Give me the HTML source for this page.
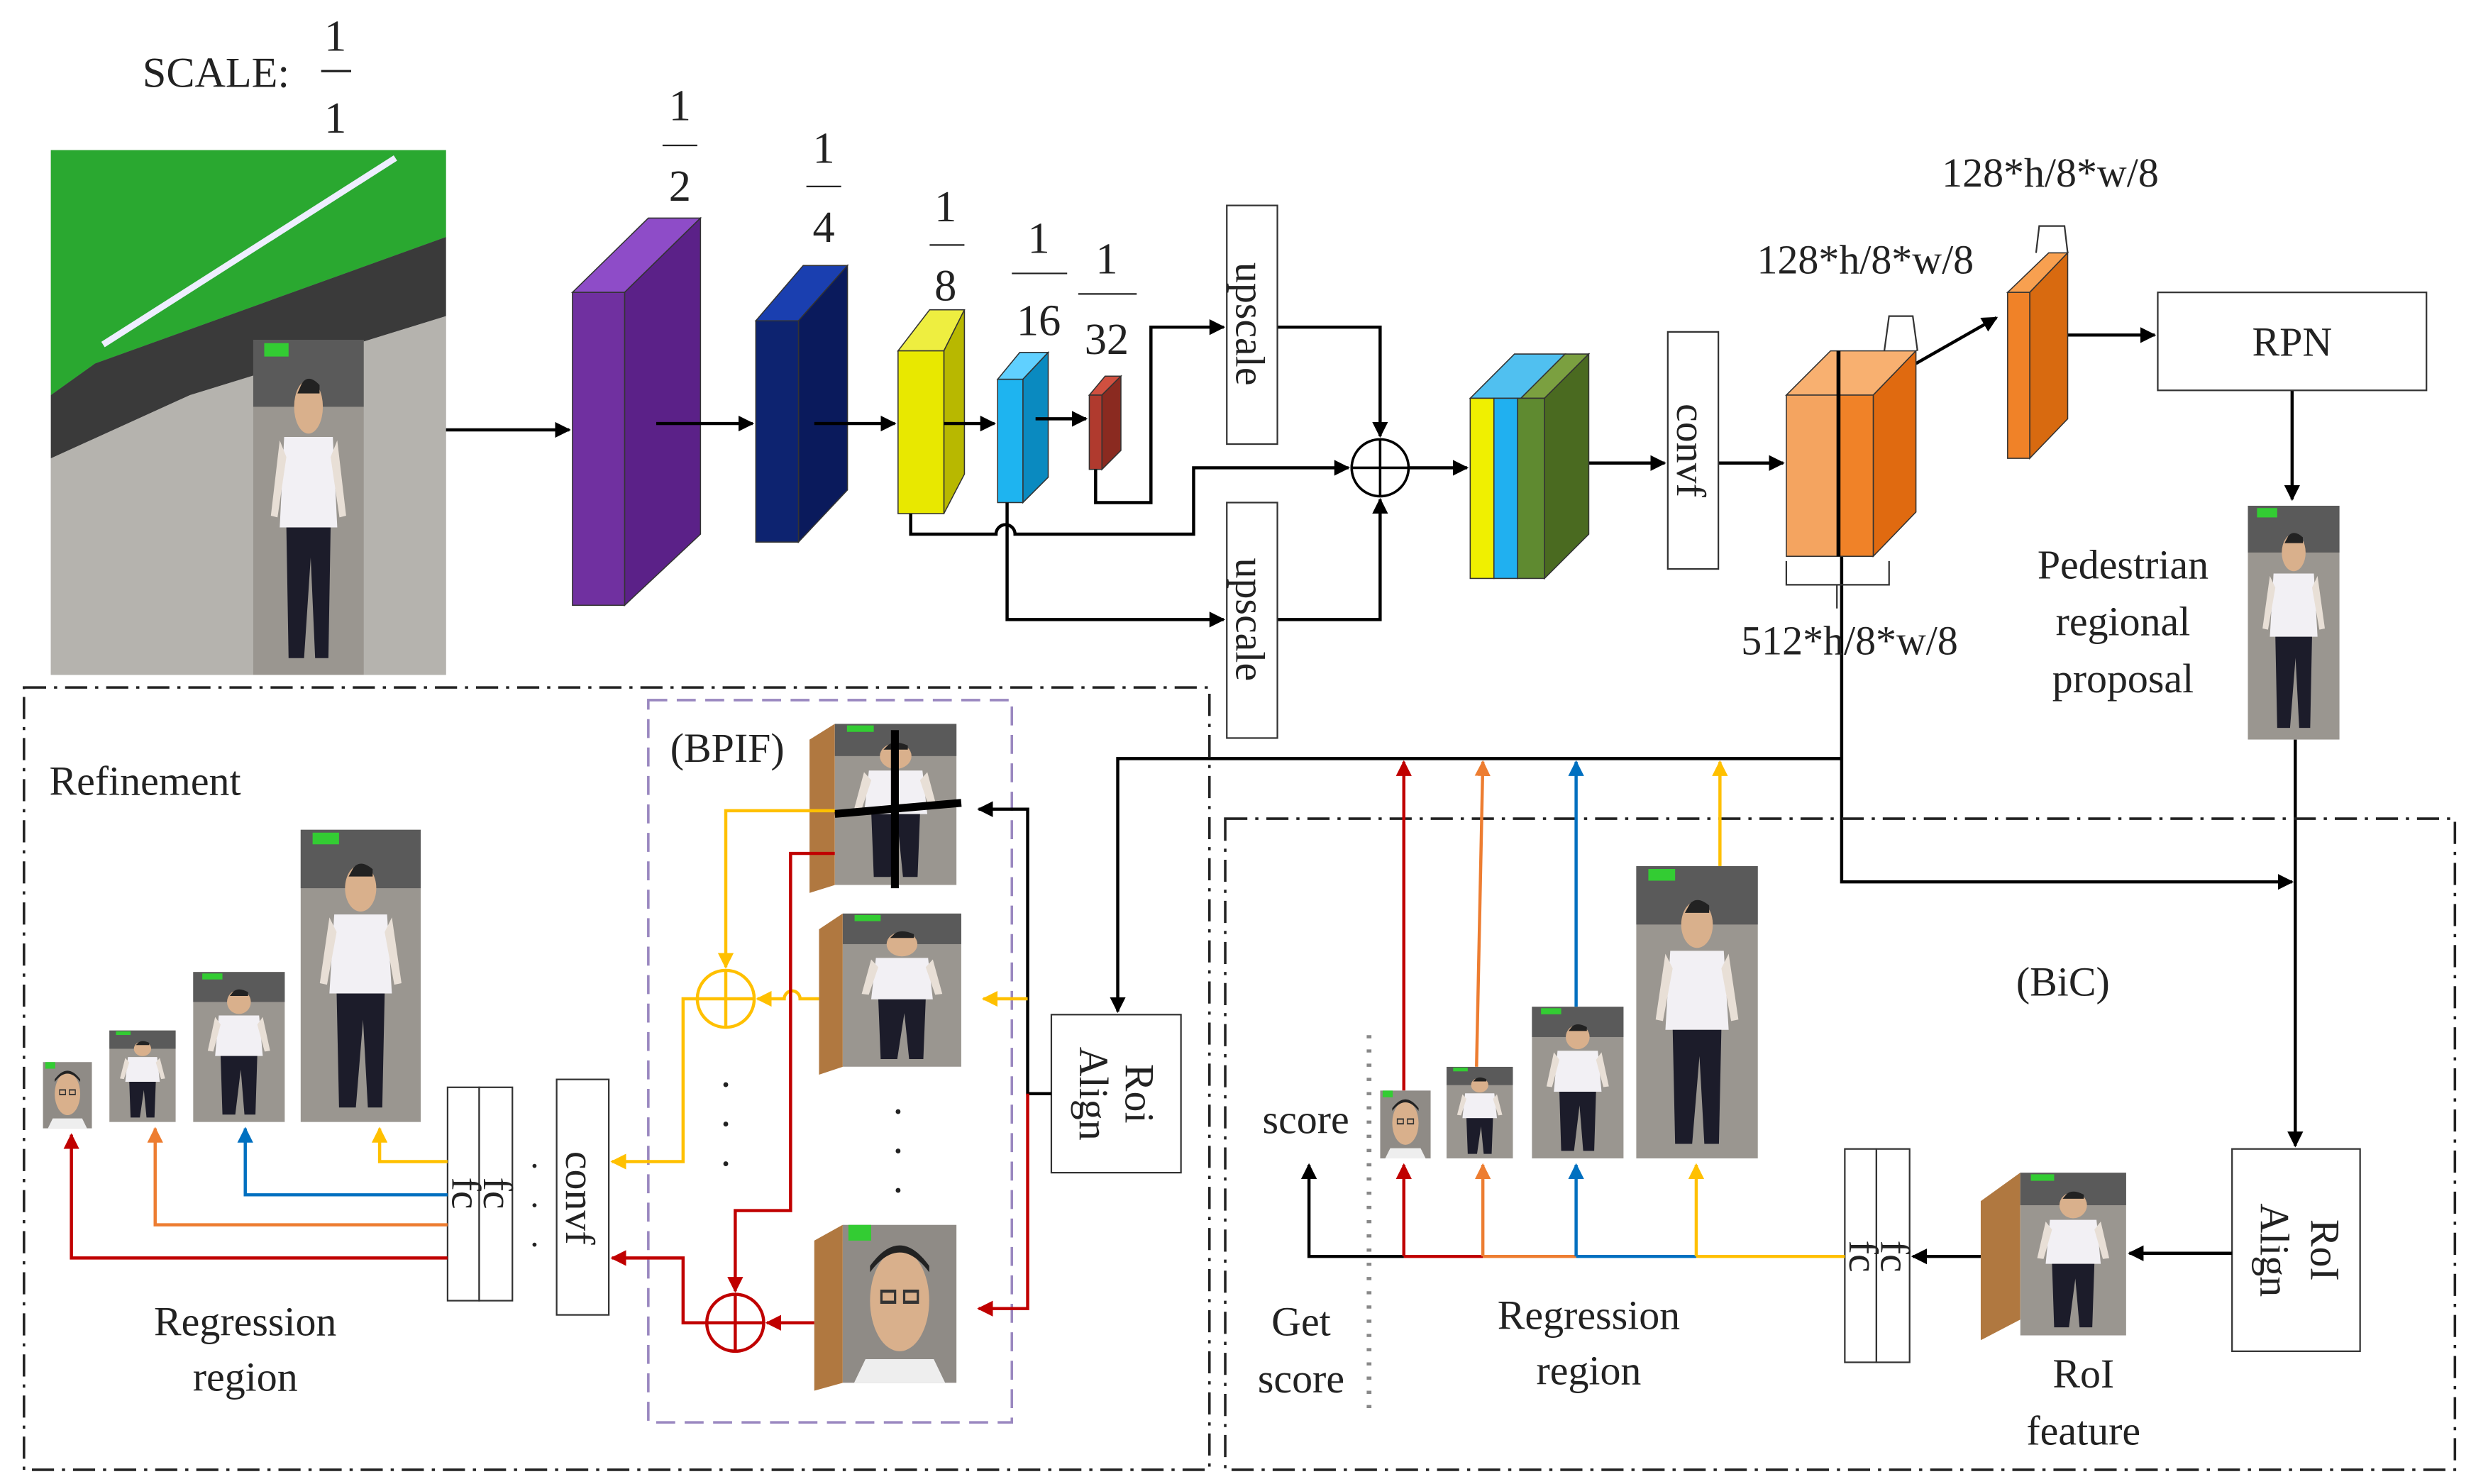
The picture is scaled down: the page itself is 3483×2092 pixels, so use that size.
<!DOCTYPE html>
<html><head><meta charset="utf-8"><style>
html,body{margin:0;padding:0;background:#fff;width:3483px;height:2092px;overflow:hidden}
svg{display:block}
text{font-family:"Liberation Serif",serif;fill:#222}
</style></head><body>
<svg width="3483" height="2092" viewBox="0 0 1563 939" xmlns="http://www.w3.org/2000/svg">
<defs>
<marker id="ak" markerWidth="10" markerHeight="10" refX="9" refY="5" orient="auto" markerUnits="userSpaceOnUse"><path d="M0,0 L10,5 L0,10 z" fill="#000"/></marker>
<marker id="ar" markerWidth="10" markerHeight="10" refX="9" refY="5" orient="auto" markerUnits="userSpaceOnUse"><path d="M0,0 L10,5 L0,10 z" fill="#c00000"/></marker>
<marker id="ao" markerWidth="10" markerHeight="10" refX="9" refY="5" orient="auto" markerUnits="userSpaceOnUse"><path d="M0,0 L10,5 L0,10 z" fill="#ed7d31"/></marker>
<marker id="ab" markerWidth="10" markerHeight="10" refX="9" refY="5" orient="auto" markerUnits="userSpaceOnUse"><path d="M0,0 L10,5 L0,10 z" fill="#0070c0"/></marker>
<marker id="ay" markerWidth="10" markerHeight="10" refX="9" refY="5" orient="auto" markerUnits="userSpaceOnUse"><path d="M0,0 L10,5 L0,10 z" fill="#ffc000"/></marker>
<symbol id="person" viewBox="0 0 100 200" preserveAspectRatio="none">
<rect width="100" height="200" fill="#9a9690"/>
<rect width="100" height="40" fill="#5a5a5a"/>
<rect x="10" y="2" width="22" height="8" fill="#3c3"/>
<ellipse cx="50" cy="40" rx="13" ry="16" fill="#d9b08c"/>
<path d="M44,26 Q50,20 60,27 L60,32 L40,32 z" fill="#222"/>
<path d="M28,58 L72,58 L76,112 L24,112 z" fill="#f2f0f4"/>
<path d="M30,112 L70,112 L68,190 L56,190 L52,130 L46,190 L32,190 z" fill="#1c1c2a"/>
<path d="M24,60 L16,105 L22,106 L30,70 z M76,60 L84,105 L78,106 L70,70 z" fill="#e8dfd6"/>
</symbol>
<symbol id="face" viewBox="0 0 100 100" preserveAspectRatio="none">
<rect width="100" height="100" fill="#8f8b86"/>
<rect x="5" width="20" height="10" fill="#3c3"/>
<ellipse cx="50" cy="48" rx="26" ry="32" fill="#d9b08c"/>
<path d="M24,30 Q50,5 76,30 L76,26 Q50,0 24,26z" fill="#222"/>
<rect x="34" y="42" width="12" height="7" fill="none" stroke="#333" stroke-width="2"/>
<rect x="54" y="42" width="12" height="7" fill="none" stroke="#333" stroke-width="2"/>
<path d="M20,85 L80,85 L90,100 L10,100z" fill="#eee"/>
</symbol>
</defs>

<!-- Scale -->
<text x="90" y="55" font-size="27">SCALE:</text>
<text x="212" y="32" font-size="28" text-anchor="middle">1</text><line x1="203" y1="45" x2="222" y2="45" stroke="#222" stroke-width="1.5"/><text x="212" y="84" font-size="28" text-anchor="middle">1</text>

<!-- main photo -->
<rect x="32" y="95" width="250" height="332" fill="#9c9ea0"/>
<polygon points="32,95 282,95 282,150 60,230 32,250" fill="#2aa830"/>
<polygon points="32,250 60,230 282,150 282,200 120,250 32,290" fill="#3a3a3a"/>
<polygon points="32,290 120,250 282,200 282,427 32,427" fill="#b5b3ae"/>
<line x1="65" y1="218" x2="250" y2="100" stroke="#eef" stroke-width="4"/>
<use href="#person" x="160" y="215" width="70" height="212"/>

<!-- scale fractions -->
<g font-size="28" text-anchor="middle">
<text x="430" y="76">1</text><line x1="419" y1="92" x2="441" y2="92" stroke="#222"/><text x="430" y="127">2</text>
<text x="521" y="103">1</text><line x1="510" y1="118" x2="532" y2="118" stroke="#222"/><text x="521" y="153">4</text>
<text x="598" y="140">1</text><line x1="588" y1="155" x2="610" y2="155" stroke="#222"/><text x="598" y="190">8</text>
<text x="657" y="160">1</text><line x1="640" y1="173" x2="675" y2="173" stroke="#222"/><text x="657" y="212">16</text>
<text x="700" y="173">1</text><line x1="682" y1="186" x2="719" y2="186" stroke="#222"/><text x="700" y="224">32</text>
</g>

<!-- backbone blocks -->
<g stroke="#333" stroke-width="0.7">
<polygon points="362,185 410,138 443,138 395,185" fill="#8e4cc8"/>
<polygon points="395,185 443,138 443,338 395,383" fill="#5b2188"/>
<rect x="362" y="185" width="33" height="198" fill="#7030a0"/>
<polygon points="478,203 508,168 536,168 505,203" fill="#1a3fb0"/>
<polygon points="505,203 536,168 536,310 505,343" fill="#0a1a5c"/>
<rect x="478" y="203" width="27" height="140" fill="#0d2370"/>
<polygon points="568,222 588,196 610,196 597,222" fill="#eeee40"/>
<polygon points="597,222 610,196 610,300 597,325" fill="#b8b800"/>
<rect x="568" y="222" width="29" height="103" fill="#e8e800"/>
<polygon points="631,240 645,223 663,223 647,240" fill="#60d0ff"/>
<polygon points="647,240 663,223 663,302 647,318" fill="#0a8ac0"/>
<rect x="631" y="240" width="16" height="78" fill="#1eb4f0"/>
<polygon points="689,250 699,238 709,238 697,250" fill="#d05040"/>
<polygon points="697,250 709,238 709,285 697,297" fill="#8a2a20"/>
<rect x="689" y="250" width="8" height="47" fill="#b03a2e"/>
</g>

<g stroke="#000" stroke-width="2" fill="none">
<line x1="282" y1="272" x2="360" y2="272" marker-end="url(#ak)"/>
<line x1="415" y1="268" x2="476" y2="268" marker-end="url(#ak)"/>
<line x1="515" y1="268" x2="566" y2="268" marker-end="url(#ak)"/>
<line x1="597" y1="268" x2="629" y2="268" marker-end="url(#ak)"/>
<line x1="655" y1="265" x2="687" y2="265" marker-end="url(#ak)"/>
<polyline points="693,297 693,318 728,318 728,207 774,207" marker-end="url(#ak)"/>
<polyline points="808,207 873,207 873,276" marker-end="url(#ak)"/>
<path d="M576,325 L576,338 L630,338 A6,6 0 0 1 642,338 L755,338 L755,296 L853,296" marker-end="url(#ak)"/>
<polyline points="637,318 637,392 774,392" marker-end="url(#ak)"/>
<polyline points="808,392 873,392 873,316" marker-end="url(#ak)"/>
<line x1="891" y1="296" x2="928" y2="296" marker-end="url(#ak)"/>
<line x1="1005" y1="293" x2="1053" y2="293" marker-end="url(#ak)"/>
<line x1="1087" y1="293" x2="1128" y2="293" marker-end="url(#ak)"/>
<line x1="1212" y1="230" x2="1263" y2="201" marker-end="url(#ak)"/>
<line x1="1308" y1="212" x2="1363" y2="212" marker-end="url(#ak)"/>
<line x1="1450" y1="247" x2="1450" y2="316" marker-end="url(#ak)"/>
<polyline points="1452,468 1452,725" marker-end="url(#ak)"/>
<polyline points="1165,352 1165,558 1450,558" marker-end="url(#ak)"/>
<polyline points="1165,480 707,480 707,640" marker-end="url(#ak)"/>
<circle cx="873" cy="296" r="18" stroke-width="1.6"/>
<line x1="855" y1="296" x2="891" y2="296" stroke-width="1.6"/><line x1="873" y1="278" x2="873" y2="314" stroke-width="1.6"/>
</g>

<!-- upscale, convf -->
<g stroke="#333" stroke-width="1" fill="#fff">
<rect x="776" y="130" width="32" height="151"/>
<rect x="776" y="318" width="32" height="149"/>
<rect x="1055" y="210" width="32" height="150"/>
<rect x="1365" y="185" width="170" height="62"/>
</g>
<g font-size="26">
<text transform="translate(782,205) rotate(90)" text-anchor="middle">upscale</text>
<text transform="translate(782,392) rotate(90)" text-anchor="middle">upscale</text>
<text transform="translate(1061,285) rotate(90)" text-anchor="middle">convf</text>
<text x="1450" y="225" text-anchor="middle">RPN</text>
</g>

<!-- concat -->
<g stroke="#333" stroke-width="0.7">
<polygon points="962,252 990,224 1005,224 977,252" fill="#7ba040"/>
<polygon points="977,252 1005,224 1005,338 977,366" fill="#4a6a20"/>
<polygon points="930,252 958,224 990,224 962,252" fill="#50c0f0"/>
<rect x="930" y="252" width="15" height="114" fill="#f0f000"/>
<rect x="945" y="252" width="15" height="114" fill="#20b0f0"/>
<rect x="960" y="252" width="17" height="114" fill="#5f8a30"/>
<polygon points="1130,250 1158,222 1212,222 1185,250" fill="#f8b070"/>
<polygon points="1185,250 1212,222 1212,324 1185,352" fill="#e06a10"/>
<rect x="1130" y="250" width="33" height="102" fill="#f4a460"/>
<rect x="1163" y="250" width="22" height="102" fill="#f08228"/>
<polygon points="1270,185 1296,160 1308,160 1284,185" fill="#f8a050"/>
<polygon points="1284,185 1308,160 1308,265 1284,290" fill="#d86a10"/>
<rect x="1270" y="185" width="14" height="105" fill="#f08228"/>
</g>
<line x1="1163" y1="222" x2="1163" y2="352" stroke="#000" stroke-width="2.5"/>
<g stroke="#333" fill="none" stroke-width="1">
<path d="M1192,222 L1195,200 L1210,200 L1213,222"/>
<path d="M1288,160 L1290,143 L1306,143 L1308,160"/>
<path d="M1130,355 L1130,370 L1195,370 L1195,355 M1162,370 L1162,385"/>
</g>
<g font-size="26" text-anchor="middle">
<text x="1180" y="173">128*h/8*w/8</text>
<text x="1297" y="118">128*h/8*w/8</text>
<text x="1170" y="414">512*h/8*w/8</text>
<text x="1343" y="366">Pedestrian</text>
<text x="1343" y="402">regional</text>
<text x="1343" y="438">proposal</text>
</g>
<use href="#person" x="1422" y="320" width="58" height="148"/>

<!-- dash-dot regions -->
<g fill="none" stroke="#222" stroke-width="1.6" stroke-dasharray="14,5,2,5">
<rect x="15" y="435" width="750" height="495"/>
<rect x="775" y="518" width="778" height="412"/>
</g>
<rect x="410" y="443" width="230" height="457" fill="none" stroke="#9a88c0" stroke-width="1.6" stroke-dasharray="12,6"/>

<!-- RoI Align boxes -->
<g stroke="#333" fill="#fff"><rect x="665" y="642" width="82" height="100"/><rect x="1412" y="727" width="81" height="128"/>
<rect x="1167" y="727" width="20" height="135"/><rect x="1187" y="727" width="21" height="135"/>
<rect x="283" y="688" width="20" height="135"/><rect x="303" y="688" width="21" height="135"/>
<rect x="352" y="683" width="33" height="149"/></g>
<g font-size="26">
<text transform="translate(712,692) rotate(90)" text-anchor="middle">Roi</text>
<text transform="translate(683,692) rotate(90)" text-anchor="middle">Align</text>
<text transform="translate(1462,791) rotate(90)" text-anchor="middle">RoI</text>
<text transform="translate(1430,791) rotate(90)" text-anchor="middle">Align</text>
<text transform="translate(1190,795) rotate(90)" text-anchor="middle">fc</text>
<text transform="translate(1170,795) rotate(90)" text-anchor="middle">fc</text>
<text transform="translate(306,755) rotate(90)" text-anchor="middle">fc</text>
<text transform="translate(286,755) rotate(90)" text-anchor="middle">fc</text>
<text transform="translate(358,758) rotate(90)" text-anchor="middle">convf</text>
<text x="31" y="503">Refinement</text>
<text x="460" y="482" text-anchor="middle">(BPIF)</text>
<text x="1305" y="630" text-anchor="middle">(BiC)</text>
<text x="826" y="717" text-anchor="middle">score</text>
<text x="823" y="845" text-anchor="middle">Get</text>
<text x="823" y="881" text-anchor="middle">score</text>
<text x="1005" y="841" text-anchor="middle">Regression</text>
<text x="1005" y="876" text-anchor="middle">region</text>
<text x="155" y="845" text-anchor="middle">Regression</text>
<text x="155" y="880" text-anchor="middle">region</text>
<text x="1318" y="878" text-anchor="middle">RoI</text>
<text x="1318" y="914" text-anchor="middle">feature</text>
</g>

<!-- RoI feature -->
<polygon points="1253,760 1278,742 1278,835 1253,848" fill="#b07840"/>
<use href="#person" x="1278" y="742" width="67" height="103"/>
<line x1="1412" y1="793" x2="1347" y2="793" stroke="#000" stroke-width="2" marker-end="url(#ak)"/>
<line x1="1253" y1="795" x2="1210" y2="795" stroke="#000" stroke-width="2" marker-end="url(#ak)"/>

<!-- BiC bottom -->
<line x1="866" y1="655" x2="866" y2="898" stroke="#888" stroke-width="3" stroke-dasharray="2,7"/>
<use href="#face" x="873" y="690" width="32" height="43"/>
<use href="#person" x="915" y="675" width="42" height="58"/>
<use href="#person" x="969" y="637" width="58" height="96"/>
<use href="#person" x="1035" y="548" width="77" height="185"/>
<g stroke-width="2" fill="none">
<line x1="1167" y1="795" x2="1073" y2="795" stroke="#ffc000"/>
<line x1="1073" y1="795" x2="997" y2="795" stroke="#0070c0"/>
<line x1="997" y1="795" x2="938" y2="795" stroke="#ed7d31"/>
<line x1="938" y1="795" x2="888" y2="795" stroke="#c00000"/>
<polyline points="888,795 828,795 828,737" stroke="#000" marker-end="url(#ak)"/>
<line x1="1073" y1="795" x2="1073" y2="737" stroke="#ffc000" marker-end="url(#ay)"/>
<line x1="997" y1="795" x2="997" y2="737" stroke="#0070c0" marker-end="url(#ab)"/>
<line x1="938" y1="795" x2="938" y2="737" stroke="#ed7d31" marker-end="url(#ao)"/>
<line x1="888" y1="795" x2="888" y2="737" stroke="#c00000" marker-end="url(#ar)"/>
<line x1="888" y1="690" x2="888" y2="482" stroke="#c00000" marker-end="url(#ar)"/>
<line x1="934" y1="675" x2="938" y2="482" stroke="#ed7d31" marker-end="url(#ao)"/>
<line x1="997" y1="637" x2="997" y2="482" stroke="#0070c0" marker-end="url(#ab)"/>
<line x1="1088" y1="548" x2="1088" y2="482" stroke="#ffc000" marker-end="url(#ay)"/>
</g>

<!-- Left refinement -->
<use href="#face" x="27" y="672" width="31" height="42"/>
<use href="#person" x="69" y="652" width="42" height="58"/>
<use href="#person" x="122" y="615" width="58" height="95"/>
<use href="#person" x="190" y="525" width="76" height="185"/>
<g stroke-width="2" fill="none">
<polyline points="283,796 45,796 45,718" stroke="#c00000" marker-end="url(#ar)"/>
<polyline points="283,775 98,775 98,714" stroke="#ed7d31" marker-end="url(#ao)"/>
<polyline points="283,756 155,756 155,714" stroke="#0070c0" marker-end="url(#ab)"/>
<polyline points="283,735 240,735 240,714" stroke="#ffc000" marker-end="url(#ay)"/>
</g>
<text x="338" y="745" font-size="22" text-anchor="middle">·</text><text x="338" y="770" font-size="22" text-anchor="middle">·</text><text x="338" y="795" font-size="22" text-anchor="middle">·</text>

<!-- BPIF -->
<polygon points="512,468 528,458 528,560 512,565" fill="#b07840"/>
<use href="#person" x="528" y="458" width="77" height="102"/>
<line x1="566" y1="462" x2="566" y2="562" stroke="#000" stroke-width="5"/>
<line x1="528" y1="515" x2="608" y2="508" stroke="#000" stroke-width="5"/>
<polygon points="518,588 533,578 533,675 518,680" fill="#b07840"/>
<use href="#person" x="533" y="578" width="75" height="97"/>
<polygon points="515,785 533,775 533,875 515,880" fill="#b07840"/>
<use href="#face" x="533" y="775" width="72" height="100"/>
<g font-size="26" text-anchor="middle"><text x="459" y="695">·</text><text x="459" y="720">·</text><text x="459" y="745">·</text>
<text x="568" y="712">·</text><text x="568" y="737">·</text><text x="568" y="762">·</text></g>

<g stroke-width="2" fill="none">
<polyline points="665,692 650,692 650,512 619,512" stroke="#000" marker-end="url(#ak)"/>
<line x1="650" y1="632" x2="622" y2="632" stroke="#ffc000" marker-end="url(#ay)"/>
<polyline points="650,692 650,828 619,828" stroke="#c00000" marker-end="url(#ar)"/>
<polyline points="528,513 459,513 459,612" stroke="#ffc000" marker-end="url(#ay)"/>
<path d="M518,632 L506,632 A5,5 0 0 0 496,632 L479,632" stroke="#ffc000" marker-end="url(#ay)"/>
<polyline points="441,632 432,632 432,735 387,735" stroke="#ffc000" marker-end="url(#ay)"/>
<circle cx="459" cy="632" r="18" stroke="#ffc000"/>
<line x1="441" y1="632" x2="477" y2="632" stroke="#ffc000"/><line x1="459" y1="614" x2="459" y2="650" stroke="#ffc000"/>
<polyline points="528,540 500,540 500,766 465,766 465,817" stroke="#c00000" marker-end="url(#ar)"/>
<line x1="515" y1="837" x2="485" y2="837" stroke="#c00000" marker-end="url(#ar)"/>
<polyline points="447,837 432,837 432,796 387,796" stroke="#c00000" marker-end="url(#ar)"/>
<circle cx="465" cy="837" r="18" stroke="#c00000"/>
<line x1="447" y1="837" x2="483" y2="837" stroke="#c00000"/><line x1="465" y1="819" x2="465" y2="855" stroke="#c00000"/>
</g>
</svg>
</body></html>
